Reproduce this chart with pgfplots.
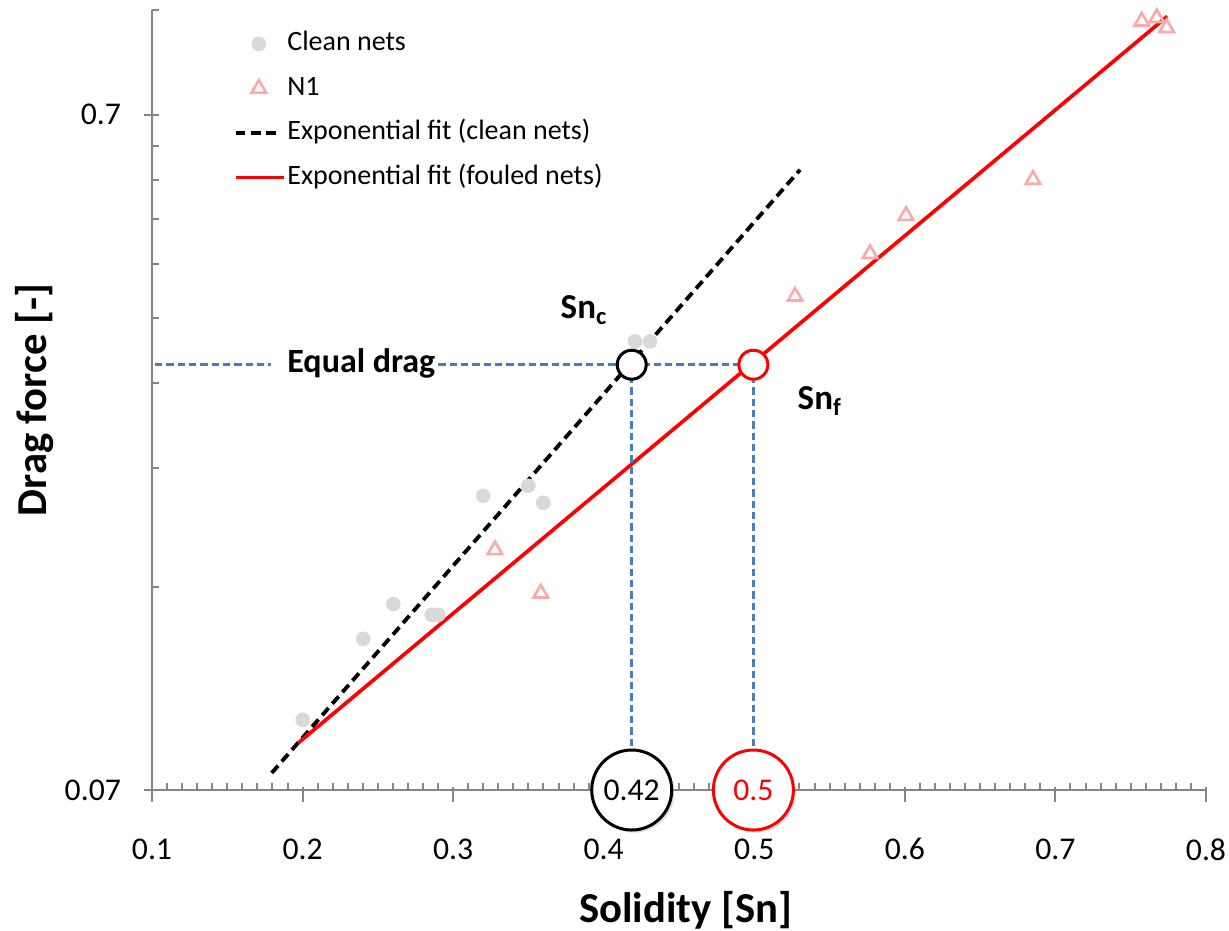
\documentclass[border=0pt]{standalone}
\usepackage{pgfplots}
\pgfplotsset{compat=1.18}
\usepackage{fontspec}
\setmainfont{Carlito}
\usetikzlibrary{shadows}
\definecolor{axgrey}{RGB}{134,134,134}
\definecolor{cleangrey}{RGB}{217,217,217}
\definecolor{nonepink}{RGB}{250,170,170}
\definecolor{eqblue}{RGB}{74,126,187}
\definecolor{fitred}{RGB}{255,0,0}
\pgfplotsset{
  marklegend/.style={legend image code/.code={\draw[##1] plot coordinates {(7pt,0pt)};}},
  dashlegend/.style={legend image code/.code={\draw[##1] (0pt,0pt) -- (13pt,0pt);}},
  linelegend/.style={legend image code/.code={\draw[##1] (0pt,0pt) -- (14.5pt,0pt);}},
}
\begin{document}
\begin{tikzpicture}
\path[use as bounding box] (-45.6pt,-42pt) rectangle (323.1pt,237pt);
\begin{axis}[
  at={(0,0)}, anchor=south west,
  scale only axis, width=316.2pt, height=234pt,
  ymode=log, xmin=0.1, xmax=0.8, ymin=0.07, ymax=1.0,
  axis x line*=bottom, axis y line*=left,
  axis line style={axgrey, line width=0.6pt},
  clip=false,
  xtick={0.1,0.2,0.3,0.4,0.5,0.6,0.7,0.8},
  xticklabels={0.1,0.2,0.3,0.4,0.5,0.6,0.7,0.8},
  minor x tick num=9,
  ytick={0.07,0.7}, yticklabels={0.07,0.7},
  minor ytick={0.14,0.21,0.28,0.35,0.42,0.49,0.56,0.63,1.0},
  tick align=inside,
  major tick length=4.5pt, minor tick length=2.1pt,
  tick style={axgrey, line width=0.6pt},
  major x tick style={yshift=-3.5pt},
  major y tick style={xshift=-2.25pt},
  /pgf/number format/assume math mode=true,
  xticklabel style={font=\fontsize{9.5}{11}\selectfont, yshift=-11pt},
  yticklabel style={font=\fontsize{9.5}{11}\selectfont, xshift=-5.8pt},
  xlabel={Solidity [Sn]},
  ylabel={Drag force [-]},
  x label style={at={([xshift=2pt,yshift=-39.6pt]axis description cs:0.5,0)}, anchor=base, font=\bfseries\fontsize{12.8}{15}\selectfont},
  y label style={at={([xshift=-31.5pt]axis description cs:0,0.5)}, anchor=base, font=\bfseries\fontsize{12.8}{15}\selectfont},
  legend style={at={(0.0768,0.9723)}, anchor=north west, draw=none, fill=none, inner sep=0pt,
    font=\fontsize{8.4}{10}\selectfont, row sep=6.35pt, column sep=0.5pt,
    nodes={inner sep=0pt, text height=5.5pt, text depth=1.5pt}},
  legend cell align=left,
]
% Clean nets
\addplot[only marks, mark=*, mark size=2pt, color=cleangrey, marklegend]
  coordinates {(0.2001,0.0889) (0.2403,0.1172) (0.2603,0.1319) (0.2858,0.1272) (0.2901,0.1272)
  (0.3200,0.1909) (0.3499,0.1975) (0.3599,0.1864) (0.4208,0.3231) (0.4307,0.3231)};
\addlegendentry{Clean nets}
% N1
\addplot[only marks, mark=triangle, mark size=2.5pt, color=nonepink, mark options={line width=0.8pt}, marklegend]
  coordinates {(0.3278,0.1587) (0.3582,0.1369) (0.5271,0.3767) (0.5769,0.4356) (0.6008,0.496)
  (0.6851,0.561) (0.7573,0.9624) (0.7673,0.9735) (0.7739,0.9411)};
\addlegendentry{N1}
% fits
\addplot[black, line width=1.15pt, dash pattern=on 2.9pt off 1.7pt, dashlegend]
  coordinates {(0.1795,0.0742) (0.5304,0.580)};
\addlegendentry{Exponential fit (clean nets)}
\addplot[fitred, line width=1.1pt, linelegend]
  coordinates {(0.1972,0.0822) (0.7743,0.9786)};
\addlegendentry{Exponential fit (fouled nets)}
% equal drag guides
\addplot[eqblue, line width=0.75pt, dash pattern=on 2.2pt off 1.2pt, forget plot]
  coordinates {(0.102,0.2984) (0.4994,0.2984)};
\addplot[eqblue, line width=0.75pt, dash pattern=on 2.2pt off 1.2pt, forget plot]
  coordinates {(0.4186,0.2984) (0.4186,0.07)};
\addplot[eqblue, line width=0.75pt, dash pattern=on 2.2pt off 1.2pt, forget plot]
  coordinates {(0.4994,0.2984) (0.4994,0.07)};
% intersection circles
\addplot[only marks, mark=*, mark size=4.35pt, mark options={draw=black, fill=white, line width=0.9pt}, forget plot]
  coordinates {(0.4186,0.2984)};
\addplot[only marks, mark=*, mark size=4.35pt, mark options={draw=fitred, fill=white, line width=0.9pt}, forget plot]
  coordinates {(0.4994,0.2984)};
% annotations
\node[anchor=base west, fill=white, inner xsep=0pt, inner ysep=2pt, font=\bfseries\fontsize{10.2}{12}\selectfont]
  at (axis cs:0.1784,0.2903) {\hspace{5pt}Equal drag};
\node[anchor=base west, inner sep=0pt, font=\bfseries\fontsize{10.5}{12}\selectfont]
  at (axis cs:0.371,0.349) {Sn\textsubscript{c}};
\node[anchor=base west, inner sep=0pt, font=\bfseries\fontsize{10.5}{12}\selectfont]
  at (axis cs:0.5284,0.256) {Sn\textsubscript{f}};
\node[circle, draw=black, line width=0.9pt, fill=white, minimum size=24pt, inner sep=0pt,
  font=\fontsize{9.5}{11}\selectfont,
  drop shadow={opacity=0.25, shadow xshift=0.8pt, shadow yshift=-0.8pt}]
  at (axis cs:0.4186,0.07) {0.42};
\node[circle, draw=fitred, text=fitred, line width=0.9pt, fill=white, minimum size=24pt, inner sep=0pt,
  font=\fontsize{9.5}{11}\selectfont,
  drop shadow={opacity=0.25, shadow xshift=0.8pt, shadow yshift=-0.8pt}]
  at (axis cs:0.4994,0.07) {0.5};
\end{axis}
\end{tikzpicture}
\end{document}
